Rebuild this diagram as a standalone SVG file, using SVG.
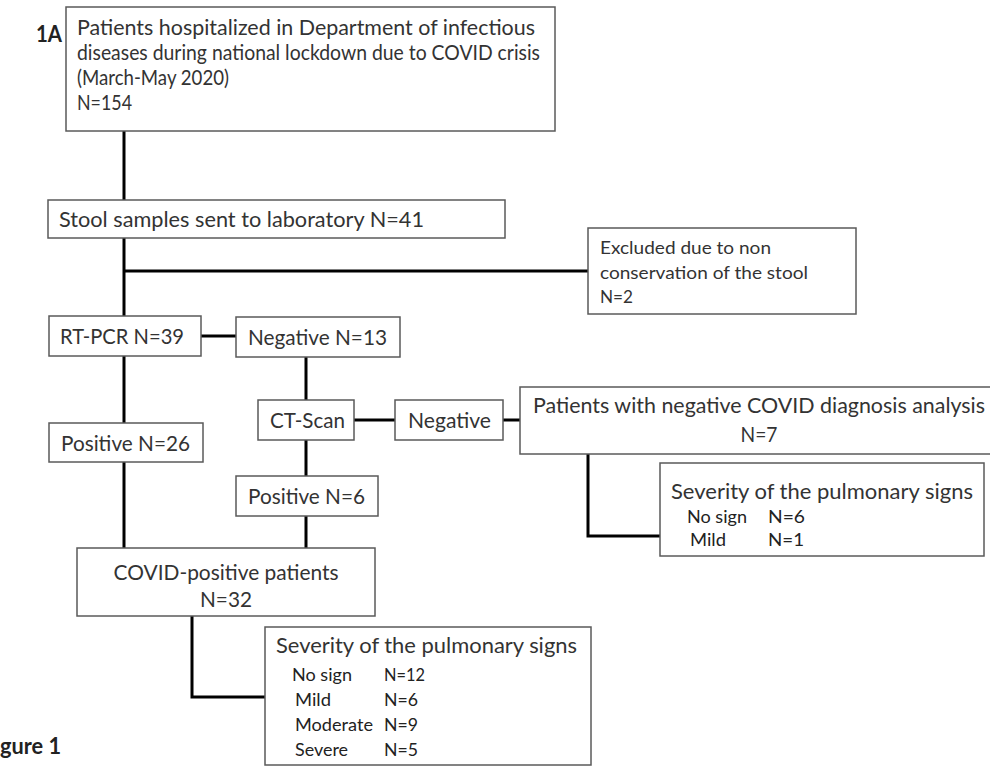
<svg xmlns="http://www.w3.org/2000/svg" width="990" height="768" viewBox="0 0 990 768">
<style>
.box{fill:#fff;stroke:#5a5a5a;stroke-width:1.5}
text{font-family:Lato,"Liberation Sans",sans-serif;fill:#333}
.t{font-size:21px}
.s{font-size:18px}
.r{font-size:18px;fill:#222}
.b{font-size:22px;font-weight:bold;fill:#222}
.c{fill:none;stroke:#000;stroke-width:3}
</style>
<rect width="990" height="768" fill="#fff"/>
<g id="connectors">
<path class="c" d="M124 131V316M124 271H588M201 336H236M306 357V400M354 420H395M503 420H520M124 356V423M124 462V548M306 440V476M306 516V548M588 454V536H660M192 616V697H265"/>
</g>
<text class="b" x="36" y="42" textLength="26" lengthAdjust="spacingAndGlyphs">1A</text>
<g id="n-hospitalized">
<rect class="box" x="66" y="7" width="489" height="124"/>
<text class="t" x="77" y="35" textLength="458" lengthAdjust="spacingAndGlyphs">Patients hospitalized in Department of infectious</text>
<text class="t" x="77" y="60" textLength="463" lengthAdjust="spacingAndGlyphs">diseases during national lockdown due to COVID crisis</text>
<text class="t" x="77" y="85" textLength="152" lengthAdjust="spacingAndGlyphs">(March-May 2020)</text>
<text class="t" x="77" y="110" textLength="55" lengthAdjust="spacingAndGlyphs">N=154</text>
</g>
<g id="n-stool">
<rect class="box" x="48" y="200" width="457" height="38"/>
<text class="t" x="59" y="227" textLength="365" lengthAdjust="spacingAndGlyphs">Stool samples sent to laboratory N=41</text>
</g>
<g id="n-excluded">
<rect class="box" x="588" y="228" width="268" height="86"/>
<text class="s" x="600" y="254" textLength="171" lengthAdjust="spacingAndGlyphs">Excluded due to non</text>
<text class="s" x="600" y="279" textLength="208" lengthAdjust="spacingAndGlyphs">conservation of the stool</text>
<text class="s" x="600" y="303" textLength="33" lengthAdjust="spacingAndGlyphs">N=2</text>
</g>
<g id="n-rtpcr">
<rect class="box" x="49" y="316" width="152" height="40"/>
<text class="t" x="60" y="344" textLength="124" lengthAdjust="spacingAndGlyphs">RT-PCR N=39</text>
</g>
<g id="n-neg13">
<rect class="box" x="236" y="317" width="164" height="40"/>
<text class="t" x="248" y="345" textLength="139" lengthAdjust="spacingAndGlyphs">Negative N=13</text>
</g>
<g id="n-ctscan">
<rect class="box" x="258" y="400" width="96" height="40"/>
<text class="t" x="270" y="428" textLength="75" lengthAdjust="spacingAndGlyphs">CT-Scan</text>
</g>
<g id="n-negative">
<rect class="box" x="395" y="400" width="108" height="40"/>
<text class="t" x="408" y="428" textLength="83" lengthAdjust="spacingAndGlyphs">Negative</text>
</g>
<g id="n-negpatients">
<rect class="box" x="520" y="387" width="472" height="67"/>
<text class="t" x="759" y="413" text-anchor="middle" textLength="452" lengthAdjust="spacingAndGlyphs">Patients with negative COVID diagnosis analysis</text>
<text class="t" x="759" y="442" text-anchor="middle" textLength="37" lengthAdjust="spacingAndGlyphs">N=7</text>
</g>
<g id="n-pos26">
<rect class="box" x="49" y="423" width="154" height="39"/>
<text class="t" x="61" y="451" textLength="129" lengthAdjust="spacingAndGlyphs">Positive N=26</text>
</g>
<g id="n-pos6">
<rect class="box" x="236" y="476" width="142" height="40"/>
<text class="t" x="248" y="504" textLength="117" lengthAdjust="spacingAndGlyphs">Positive N=6</text>
</g>
<g id="n-covidpos">
<rect class="box" x="77" y="548" width="298" height="68"/>
<text class="t" x="226" y="580" text-anchor="middle" textLength="225" lengthAdjust="spacingAndGlyphs">COVID-positive patients</text>
<text class="t" x="226" y="607" text-anchor="middle" textLength="52" lengthAdjust="spacingAndGlyphs">N=32</text>
</g>
<g id="n-sev-neg">
<rect class="box" x="660" y="463" width="324" height="93"/>
<text class="t" x="671" y="499" textLength="302" lengthAdjust="spacingAndGlyphs">Severity of the pulmonary signs</text>
<text class="r" x="687" y="523" textLength="60" lengthAdjust="spacingAndGlyphs">No sign</text>
<text class="r" x="768" y="523" textLength="37" lengthAdjust="spacingAndGlyphs">N=6</text>
<text class="r" x="690" y="546" textLength="36" lengthAdjust="spacingAndGlyphs">Mild</text>
<text class="r" x="768" y="546" textLength="36" lengthAdjust="spacingAndGlyphs">N=1</text>
</g>
<g id="n-sev-pos">
<rect class="box" x="265" y="627" width="326" height="138"/>
<text class="t" x="276" y="653" textLength="301" lengthAdjust="spacingAndGlyphs">Severity of the pulmonary signs</text>
<text class="r" x="292" y="681" textLength="60" lengthAdjust="spacingAndGlyphs">No sign</text>
<text class="r" x="384" y="681" textLength="41" lengthAdjust="spacingAndGlyphs">N=12</text>
<text class="r" x="295" y="706" textLength="36" lengthAdjust="spacingAndGlyphs">Mild</text>
<text class="r" x="384" y="706" textLength="34" lengthAdjust="spacingAndGlyphs">N=6</text>
<text class="r" x="295" y="731" textLength="78" lengthAdjust="spacingAndGlyphs">Moderate</text>
<text class="r" x="384" y="731" textLength="34" lengthAdjust="spacingAndGlyphs">N=9</text>
<text class="r" x="295" y="756" textLength="53" lengthAdjust="spacingAndGlyphs">Severe</text>
<text class="r" x="384" y="756" textLength="34" lengthAdjust="spacingAndGlyphs">N=5</text>
</g>
<text class="b" x="0" y="754" textLength="61" lengthAdjust="spacingAndGlyphs">gure 1</text>
</svg>
